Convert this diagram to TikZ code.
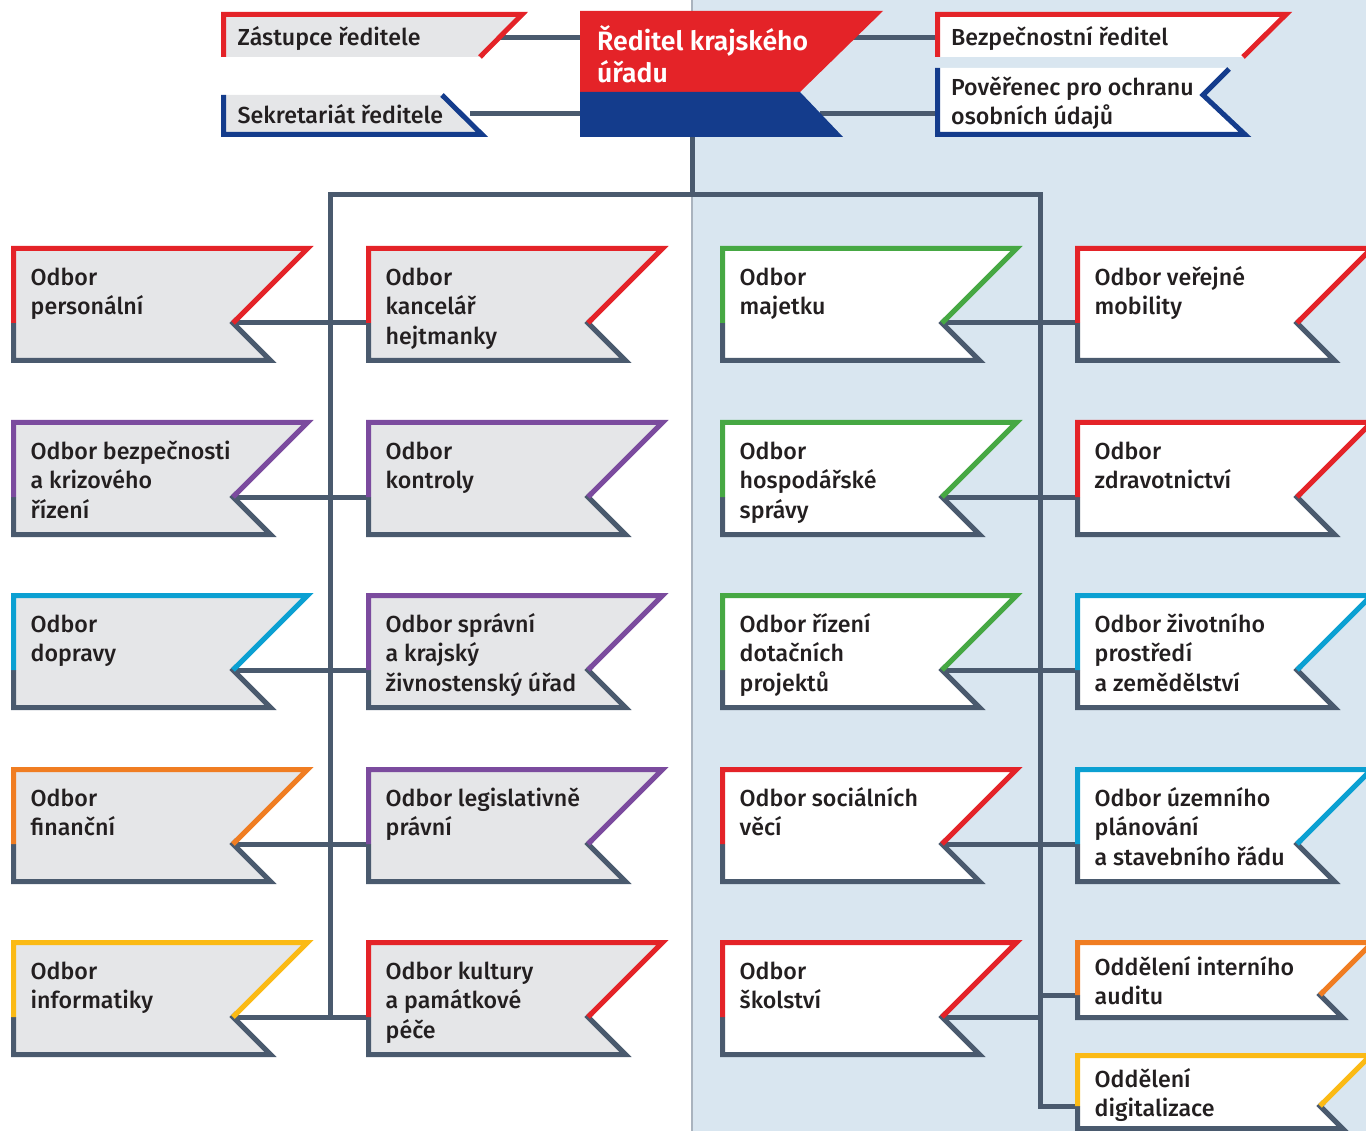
\documentclass[tikz,border=0pt]{standalone}
\usepackage{fontspec}
\setmainfont{Fira Sans}[UprightFont=* Medium, BoldFont=* SemiBold]
\definecolor{accred}{HTML}{E42328}
\definecolor{accnavy}{HTML}{143C8C}
\definecolor{accpurple}{HTML}{7B4B9E}
\definecolor{acccyan}{HTML}{0BA0D2}
\definecolor{accorange}{HTML}{F07D22}
\definecolor{accyellow}{HTML}{FBBA15}
\definecolor{accgreen}{HTML}{46A843}
\definecolor{linec}{HTML}{4A5A6E}
\definecolor{boxgray}{HTML}{E5E6E8}
\definecolor{bgblue}{HTML}{D9E6F0}
\definecolor{textc}{HTML}{231F20}
\definecolor{sepc}{HTML}{A9B3BE}
\pgfdeclarelayer{back}
\pgfdeclarelayer{conns}
\pgfsetlayers{back,conns,main}
\tikzset{
  conn/.style={draw=linec, line width=5pt},
  edge/.style={line width=5pt, line join=miter},
  lbl/.style={font=\fontsize{23.2}{29.5}\selectfont, text=textc, align=left, inner sep=0pt, anchor=north west},
  title/.style={font=\fontsize{26.6}{31.3}\selectfont\bfseries, text=white, align=left, inner sep=0pt, anchor=north west},
}
\def\tdy{36.5}
% #1 name, #2 left x, #3 top y, #4 notch y, #5 bottom y, #6 notch x, #7 accent, #8 fill, #9 text
\newcommand\flag[9]{%
  \pgfmathsetmacro\fR{#6+(#4-#3)}%
  \pgfmathsetmacro\fBR{#6+(#5-#4)}%
  \fill[#8] (#2,#3) -- (\fR,#3) -- (#6,#4) -- (\fBR,#5) -- (#2,#5) -- cycle;
  \draw[edge,linec] (#2,#4) -- (#2,#5) -- (\fBR,#5) -- (#6,#4) -- (#6+4,#4-4);
  \draw[edge,#7] (#2,#4) -- (#2,#3) -- (\fR,#3) -- (#6,#4);
  \coordinate (#1-notch) at (#6,#4);
  \coordinate (#1-in) at (#2,#4);
  \node[lbl] (#1) at (#2+17,#3+\tdy-22) {\rule{0pt}{22pt}#9};
}
\newcommand\stdflag[6]{% name, left, top, accent, fill, text
  \pgfmathsetmacro\sT{#3}%
  \pgfmathsetmacro\sNy{#3+74.5}%
  \pgfmathsetmacro\sB{#3+112}%
  \pgfmathsetmacro\sNx{#2+219.5}%
  \flag{#1}{#2}{\sT}{\sNy}{\sB}{\sNx}{#4}{#5}{#6}%
}
\begin{document}
\begin{tikzpicture}[x=1pt,y=-1pt]
\useasboundingbox (0,0) rectangle (1366,1131);
\clip (0,0) rectangle (1366,1131);
\begin{pgfonlayer}{back}
\fill[bgblue] (692,0) rectangle (1366,1131);
\draw[sepc, line width=1.5pt] (692,0) -- (692,1131);
\end{pgfonlayer}

% ---------- coordinates for the top block ----------
\coordinate (zast-out) at (495,38);
\coordinate (sekr-out) at (470,114);
\coordinate (dir-l1) at (582,38);
\coordinate (dir-l2) at (582,114);
\coordinate (dir-r1) at (850,38);
\coordinate (dir-r2) at (820,114);
\coordinate (bezp-in) at (937,38);
\coordinate (pov-in) at (937,114);
\coordinate (dir-bot) at (692,135);
\coordinate (hub) at (692,195);
\coordinate (lt) at (330,195);
\coordinate (rt) at (1040,195);

% ---------- top block ----------
% Zastupce reditele
\fill[boxgray] (223.5,14.5) -- (522,14.5) -- (480,57) -- (223.5,57) -- cycle;
\draw[edge,accred] (223.5,57) -- (223.5,14.5) -- (522,14.5) -- (480,57);
\node[lbl] (zast) at (237.5,45-22) {\rule{0pt}{22pt}Zástupce ředitele};
% Sekretariat reditele
\fill[boxgray] (223.5,95) -- (442,95) -- (482,134.5) -- (223.5,134.5) -- cycle;
\draw[edge,accnavy] (223.5,95) -- (223.5,134.5) -- (482,134.5) -- (442,95);
\node[lbl] (sekr) at (237.5,123-22) {\rule{0pt}{22pt}Sekretariát ředitele};
% Reditel krajskeho uradu
\fill[accred] (580,11) -- (883,11) -- (800,92) -- (580,92) -- cycle;
\fill[accnavy] (580,92) -- (800,92) -- (843,137) -- (580,137) -- cycle;
\node[title] (dir) at (597,50.7-25) {\rule{0pt}{25pt}Ředitel krajského\\úřadu};
% Bezpecnostni reditel
\fill[white] (937.5,14.5) -- (1286,14.5) -- (1243,57) -- (937.5,57) -- cycle;
\draw[edge,accred] (937.5,57) -- (937.5,14.5) -- (1286,14.5) -- (1243,57);
\node[lbl] (bezp) at (951,45-22) {\rule{0pt}{22pt}Bezpečnostní ředitel};
% Poverenec
\fill[white] (937.5,68) -- (1229,68) -- (1203,95) -- (1245,134.5) -- (937.5,134.5) -- cycle;
\draw[edge,accnavy] (937.5,68) -- (937.5,134.5) -- (1245,134.5) -- (1203,95) -- (1229,69);
\node[lbl] (pov) at (951,95-22) {\rule{0pt}{22pt}Pověřenec pro ochranu\\osobních údajů};

% ---------- column 1 ----------
\stdflag{a1}{13.5}{248.5}{accred}{boxgray}{Odbor\\personální}
\stdflag{a2}{13.5}{422.5}{accpurple}{boxgray}{Odbor bezpečnosti\\a krizového\\řízení}
\stdflag{a3}{13.5}{595.5}{acccyan}{boxgray}{Odbor\\dopravy}
\stdflag{a4}{13.5}{769.5}{accorange}{boxgray}{Odbor\\finanční}
\stdflag{a5}{13.5}{942.5}{accyellow}{boxgray}{Odbor\\informatiky}
% ---------- column 2 ----------
\stdflag{b1}{368.5}{248.5}{accred}{boxgray}{Odbor\\kancelář\\hejtmanky}
\stdflag{b2}{368.5}{422.5}{accpurple}{boxgray}{Odbor\\kontroly}
\stdflag{b3}{368.5}{595.5}{accpurple}{boxgray}{Odbor správní\\a krajský\\živnostenský úřad}
\stdflag{b4}{368.5}{769.5}{accpurple}{boxgray}{Odbor legislativně\\právní}
\stdflag{b5}{368.5}{942.5}{accred}{boxgray}{Odbor kultury\\a památkové\\péče}
% ---------- column 3 ----------
\stdflag{c1}{722.5}{248.5}{accgreen}{white}{Odbor\\majetku}
\stdflag{c2}{722.5}{422.5}{accgreen}{white}{Odbor\\hospodářské\\správy}
\stdflag{c3}{722.5}{595.5}{accgreen}{white}{Odbor řízení\\dotačních\\projektů}
\stdflag{c4}{722.5}{769.5}{accred}{white}{Odbor sociálních\\věcí}
\stdflag{c5}{722.5}{942.5}{accred}{white}{Odbor\\školství}
% ---------- column 4 ----------
\stdflag{d1}{1077.5}{248.5}{accred}{white}{Odbor veřejné\\mobility}
\stdflag{d2}{1077.5}{422.5}{accred}{white}{Odbor\\zdravotnictví}
\stdflag{d3}{1077.5}{595.5}{acccyan}{white}{Odbor životního\\prostředí\\a zemědělství}
\stdflag{d4}{1077.5}{769.5}{acccyan}{white}{Odbor územního\\plánování\\a stavebního řádu}
\def\tdy{32.5}
\flag{aud}{1077.5}{942.5}{995}{1017.5}{1320}{accorange}{white}{Oddělení interního\\auditu}
\def\tdy{31.5}
\flag{dig}{1077.5}{1055.5}{1106}{1128.5}{1320}{accyellow}{white}{Oddělení\\digitalizace}

% ---------- connectors (on a layer under the boxes) ----------
\begin{pgfonlayer}{conns}
\draw[conn] (zast-out) -- (dir-l1);
\draw[conn] (sekr-out) -- (dir-l2);
\draw[conn] (dir-r1) -- (bezp-in);
\draw[conn] (dir-r2) -- (pov-in);
\draw[conn] (dir-bot) -- (hub);
\draw[conn] (lt |- a5-notch) ++(0,2.5) -- (lt) -- (rt) -- (rt |- dig-notch) -- (dig-in);
\foreach \i in {1,...,5} {\draw[conn] (a\i-notch) -- (b\i-in);}
\foreach \i in {1,...,4} {\draw[conn] (c\i-notch) -- (d\i-in);}
\draw[conn] (c5-notch) -- (rt |- c5-notch);
\draw[conn] (rt |- aud-notch) -- (aud-in);
\end{pgfonlayer}
\end{tikzpicture}
\end{document}
